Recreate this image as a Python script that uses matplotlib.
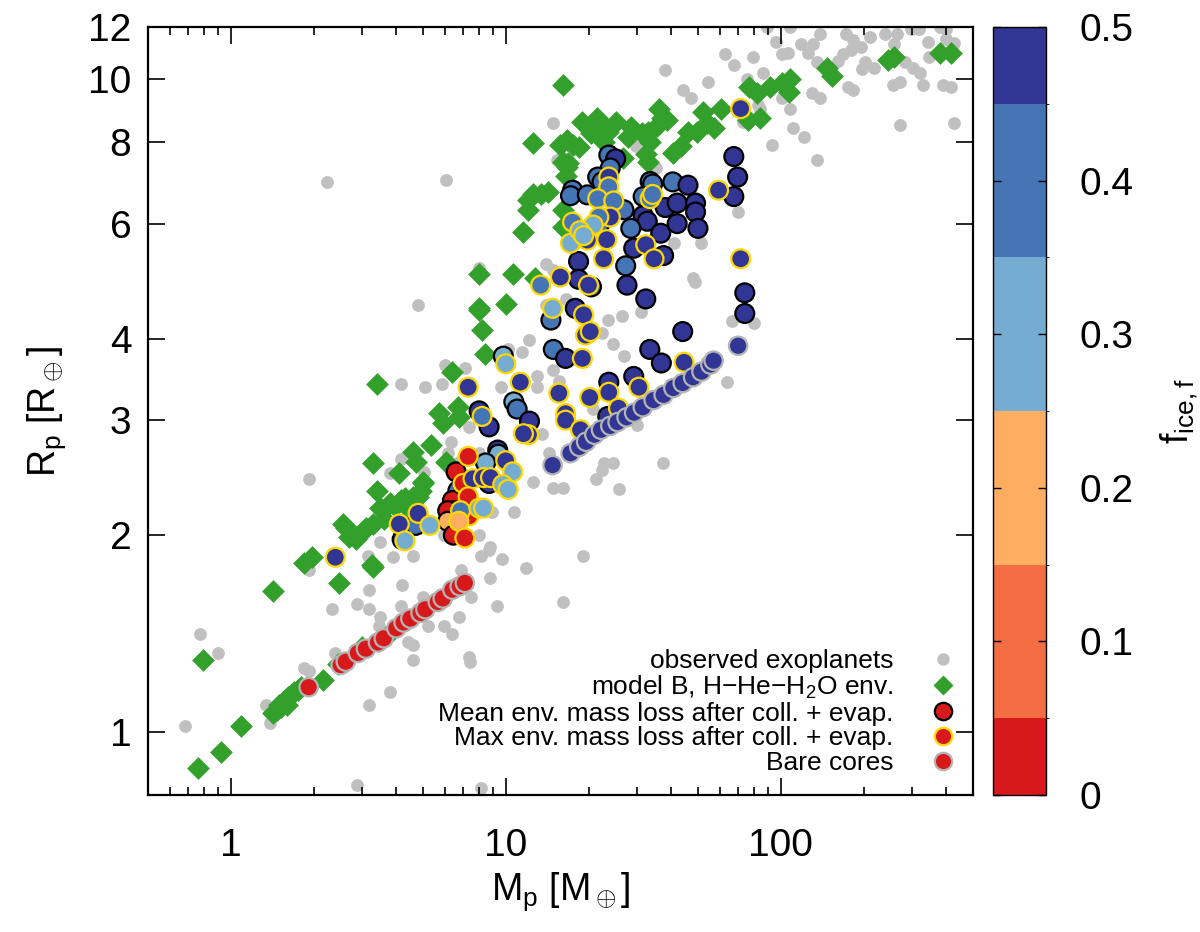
import numpy as np
import matplotlib
matplotlib.use("Agg")
import matplotlib.pyplot as plt
from matplotlib.colors import ListedColormap, BoundaryNorm
from matplotlib.lines import Line2D
from matplotlib.ticker import FixedLocator, LogLocator, NullFormatter, NullLocator

plt.rcParams["font.family"] = ["Liberation Sans", "DejaVu Sans"]
plt.rcParams["mathtext.fontset"] = "custom"
plt.rcParams["mathtext.rm"] = "Liberation Sans"
plt.rcParams["mathtext.it"] = "Liberation Sans"
plt.rcParams["mathtext.sf"] = "Liberation Sans"

# -------------------------
# observed exoplanets (M_p, R_p)
# -------------------------
obs_m = [1.92, 0.77, 0.90, 0.68, 1.34, 1.39, 1.92, 1.85, 2.40, 2.33, 2.87, 3.17, 3.17, 3.17,
         3.50, 3.45, 3.60, 3.80, 4.15, 4.20, 4.40, 4.60, 4.60, 5.00, 5.20, 5.95, 6.40, 6.75,
         7.35, 7.40, 7.45, 6.85, 8.70, 8.80, 9.30, 8.10, 2.87, 3.15, 3.90, 4.60, 3.50, 5.95, 1.92,
         4.8, 4.15, 5.1, 5.85, 6.0, 7.1, 12.1, 11.5, 13.0, 13.0, 14.8, 15.6, 9.6, 7.35, 6.3,
         13.6, 14.4, 6.15, 6.75, 5.05, 3.8, 4.15, 8.0, 10.7, 12.6, 14.8, 16.2, 8.95, 8.8, 8.1,
         9.7, 11.8, 8.0,
         48.8, 66.6, 80, 23.5, 26.5, 31, 22.4, 24.5, 27, 16.6, 64, 20.7, 30, 22.7, 24.5, 22.4,
         21.3, 25.8, 37.2, 19.1, 16.2,
         38, 54.6, 44, 47, 62.8, 67.5, 79.5, 75.5, 89, 96, 108, 101, 106, 118, 126, 131, 139,
         136, 161, 169, 180, 172, 183, 195, 212, 203, 218, 198, 240, 265, 297, 318, 380, 400,
         400, 258, 283, 303, 320, 342, 345, 425, 257, 272, 328, 390, 415, 175, 183, 272, 425,
         130, 139, 101, 108, 111, 121, 93, 136, 83, 86, 70, 51.3, 40.8, 29.7, 35.2, 48, 73, 84,
         2.23, 6.05, 14.8, 15.3, 8.0, 14.0, 14.8, 14.0, 10.2]
obs_r = [2.44, 1.41, 1.32, 1.02, 1.10, 1.03, 1.24, 1.25, 1.32, 1.54, 1.57, 1.65, 1.54, 1.10,
         1.50, 1.45, 1.41, 1.15, 1.56, 1.68, 1.37, 1.36, 1.29, 1.61, 1.45, 1.45, 1.41, 1.50,
         1.30, 1.28, 1.61, 1.77, 1.90, 1.72, 1.56, 0.82, 0.83, 1.86, 1.85, 1.86, 1.95, 2.00, 1.77,
         4.5, 3.41, 3.37, 3.41, 3.65, 3.60, 3.98, 3.81, 3.50, 3.37, 3.58, 3.45, 3.37, 2.93, 2.78,
         2.86, 2.67, 2.67, 2.59, 2.50, 2.49, 2.62, 2.67, 2.17, 2.41, 2.36, 2.36, 2.17, 1.92, 1.86,
         1.84, 1.78, 2.00,
         4.88, 4.25, 4.22, 4.27, 4.33, 4.40, 4.08, 3.92, 3.76, 4.6, 3.43, 3.12, 2.95, 2.58, 2.58,
         2.52, 2.44, 2.35, 2.58, 1.86, 1.58,
         10.3, 9.9, 9.6, 9.34, 10.9, 10.5, 10.8, 10.0, 12.0, 11.4, 12.0, 10.9, 10.95, 11.3, 10.96,
         11.3, 11.7, 10.6, 10.65, 10.9, 11.05, 11.7, 11.45, 11.2, 11.6, 10.6, 10.4, 10.35, 11.7,
         11.7, 11.9, 11.9, 12.0, 11.9, 11.5, 11.3, 10.6, 10.4, 10.2, 11.4, 10.8, 11.35, 9.78,
         9.9, 9.78, 9.78, 9.7, 9.7, 9.6, 8.5, 8.54, 9.5, 9.35, 9.35, 8.98, 8.4, 8.14, 7.92, 7.5,
         9.1, 10.2, 6.25, 5.6, 5.6, 7.9, 7.3, 4.95, 8.6, 9.0,
         6.94, 7.0, 8.54, 7.5, 5.13, 5.2, 5.1, 4.5, 3.85]

# -------------------------
# model B, H-He-H2O env.
# -------------------------
mb_m = [0.76, 0.92, 1.09, 0.79, 1.43, 1.47, 1.50, 1.55, 1.58, 1.62, 1.66, 1.70, 1.75, 1.80,
        1.52, 1.60, 2.16, 2.45, 3.0, 3.9,
        1.43, 1.84, 1.98, 2.47, 3.28, 2.55, 2.69, 2.85, 3.05, 3.3, 3.5, 3.8, 4.15, 4.4, 4.6,
        4.9, 5.0, 3.4, 4.1, 3.3, 4.6, 4.7, 5.35, 6.05, 5.0, 4.78, 4.3, 3.95, 2.62, 2.8, 3.1,
        3.6, 3.25,
        3.4, 8.0, 10.0, 8.2, 8.4, 6.4, 5.7, 5.9, 6.7, 6.75,
        16.2, 12.6, 15.7, 16.7, 17.5, 16.1, 16.9, 16.5, 12.6, 13.4, 14.2, 12.0, 12.0, 11.6,
        16.2, 16.1, 8.0, 10.6, 12.8, 8.0,
        18.4, 16.7, 20.9, 22.2, 20.4, 23.5, 25.1, 22.8, 27.8, 28.5, 26.6, 31.4, 32.8, 36, 37,
        38.6, 35.5, 33.5, 32.3, 33, 40.5, 43.3, 46, 49.8, 52.3, 54, 57, 60.5, 76.5, 82, 76, 84,
        91.6, 101, 108, 107, 147, 154, 245, 258, 380, 415, 19.0, 21.5]
mb_r = [0.88, 0.93, 1.02, 1.29, 1.07, 1.08, 1.10, 1.11, 1.12, 1.13, 1.14, 1.15, 1.16, 1.17,
        1.09, 1.10, 1.20, 1.27, 1.35, 1.43,
        1.64, 1.81, 1.85, 1.69, 1.79, 2.08, 1.99, 1.97, 2.04, 2.08, 2.20, 2.24, 2.26, 2.20, 2.29,
        2.34, 2.40, 2.34, 2.49, 2.58, 2.68, 2.59, 2.75, 2.59, 2.41, 2.29, 2.28, 2.22, 2.05, 2.00,
        2.05, 2.12, 1.80,
        3.41, 4.43, 4.52, 4.12, 3.79, 3.55, 3.08, 2.97, 3.14, 3.03,
        9.77, 7.97, 7.92, 8.05, 7.92, 7.46, 7.44, 7.10, 6.67, 6.67, 6.70, 6.52, 6.30, 5.82,
        6.30, 5.93, 5.03, 5.02, 4.95, 4.45,
        7.87, 7.33, 8.40, 8.54, 8.25, 8.30, 8.58, 8.00, 8.14, 8.43, 7.56, 8.25, 8.30, 9.0, 8.7,
        8.66, 8.45, 8.00, 7.66, 7.45, 7.70, 7.90, 8.30, 8.30, 8.90, 8.54, 8.40, 9.00, 9.70, 9.50,
        8.66, 8.70, 9.70, 9.85, 10.0, 9.55, 10.4, 10.1, 10.7, 10.8, 10.95, 10.95, 8.6, 8.7]

# -------------------------
# mean env. mass loss (black edge)
# -------------------------
mean_m = [23.7, 25.1, 24.0, 21.6, 17.5, 17.2, 19.8, 22.4, 26.9, 33.5, 34.2, 40.5, 46, 31.6,
          38, 42, 49, 49, 31.6, 32.7, 28.5, 36.6, 42, 50, 29.2, 37.5, 27.3, 18.4, 67.5, 69.7,
          67.5, 22.0,
          18.4, 20.5, 14.6, 17.9, 27.6, 32.3, 44, 74, 74,
          14.9, 16.5, 9.8, 10.7, 11.0, 12.2, 8.0, 8.7, 9.35, 9.4, 8.45, 6.6, 8.7, 6.7, 6.4,
          6.5, 6.15, 6.15, 6.45, 4.7, 4.2,
          33.4, 36.8, 23.7, 29.2, 23.5]
mean_r = [7.64, 7.54, 7.30, 7.07, 6.75, 6.62, 6.64, 6.95, 6.30, 6.96, 6.90, 6.95, 6.87, 6.60,
          6.35, 6.45, 6.45, 6.25, 6.17, 6.05, 5.90, 5.80, 6.00, 5.90, 5.50, 5.36, 5.17, 5.25,
          7.60, 7.07, 6.60, 6.00,
          4.93, 4.80, 4.27, 4.45, 4.83, 4.60, 4.10, 4.70, 4.37,
          3.85, 3.73, 3.76, 3.20, 3.12, 2.99, 3.10, 2.93, 2.70, 2.66, 2.58, 2.50, 2.40, 2.34,
          2.26, 2.18, 2.18, 2.10, 2.00, 2.07, 1.97,
          3.85, 3.67, 3.43, 3.50, 3.04]
mean_f = [0.4, 0.5, 0.4, 0.4, 0.4, 0.4, 0.4, 0.4, 0.4, 0.4, 0.4, 0.4, 0.5, 0.4,
          0.5, 0.5, 0.5, 0.5, 0.5, 0.5, 0.4, 0.5, 0.5, 0.5, 0.5, 0.5, 0.4, 0.5, 0.5, 0.5,
          0.5, 0.4,
          0.5, 0.4, 0.4, 0.5, 0.5, 0.5, 0.5, 0.5, 0.5,
          0.4, 0.5, 0.3, 0.3, 0.4, 0.5, 0.5, 0.5, 0.5, 0.3, 0.3, 0.0, 0.5, 0.4, 0.0,
          0.0, 0.0, 0.2, 0.0, 0.4, 0.5,
          0.5, 0.5, 0.5, 0.5, 0.5]

# -------------------------
# max env. mass loss (yellow edge)
# -------------------------
max_m = [23.7, 23.7, 21.6, 24.7, 24.0, 21.8, 17.5, 20.8, 17.2, 19.8, 23.3, 22.7, 32.3, 34.6,
         33.5, 34.2, 59.4, 71.5, 71.5, 18.6, 19.2,
         13.4, 15.8, 20.0, 14.8, 19.2, 19.5, 20.3, 10.0, 11.3, 7.3, 15.6, 16.5, 16.5, 8.2, 12.1,
         11.6, 10.0, 10.6, 7.3, 7.0, 7.6, 8.3, 8.8, 9.75, 10.2, 7.3, 7.35, 6.85, 8.0, 8.3, 6.75,
         7.1, 4.8, 5.3, 4.1, 4.3, 2.4,
         19.0, 44.5, 23.7, 30.5, 20.2, 18.7, 25.7]
max_r = [7.07, 6.83, 6.55, 6.50, 6.14, 6.14, 6.03, 5.97, 5.60, 5.66, 5.67, 5.30, 5.57, 5.30,
         6.55, 6.65, 6.75, 9.00, 5.30, 5.85, 5.75,
         4.83, 4.97, 4.83, 4.45, 4.35, 4.05, 4.10, 3.66, 3.43, 3.37, 3.30, 3.07, 3.00, 3.04, 2.85,
         2.86, 2.60, 2.50, 2.64, 2.40, 2.44, 2.45, 2.45, 2.39, 2.35, 2.29, 2.14, 2.18, 2.20, 2.20,
         2.10, 1.98, 2.16, 2.07, 2.08, 1.96, 1.85,
         3.73, 3.68, 3.31, 3.37, 3.25, 2.90, 3.13]
max_f = [0.5, 0.4, 0.4, 0.4, 0.5, 0.4, 0.4, 0.3, 0.3, 0.5, 0.5, 0.5, 0.5, 0.5,
         0.4, 0.4, 0.5, 0.5, 0.5, 0.3, 0.3,
         0.4, 0.5, 0.5, 0.3, 0.5, 0.5, 0.5, 0.3, 0.5, 0.5, 0.5, 0.5, 0.5, 0.4, 0.5,
         0.5, 0.5, 0.3, 0.0, 0.0, 0.5, 0.5, 0.5, 0.3, 0.3, 0.0, 0.0, 0.4, 0.3, 0.3, 0.2,
         0.0, 0.5, 0.3, 0.5, 0.3, 0.5,
         0.5, 0.5, 0.5, 0.5, 0.5, 0.5, 0.5]

# -------------------------
# bare cores (grey edge)
# -------------------------
bare_m = [1.92, 2.51, 2.62, 2.9, 3.1, 3.43, 3.6, 4.0, 4.25, 4.5, 4.9, 5.1, 5.66, 5.9, 6.4,
          6.8, 7.1,
          14.8, 17.2, 18.5, 19.6, 21, 22.2, 24, 25.5, 27.5, 29.3, 31.5, 34.5, 37.5, 40.7, 44,
          48, 51.5, 55.5, 57, 70]
bare_r = [1.17, 1.265, 1.28, 1.32, 1.34, 1.37, 1.39, 1.44, 1.47, 1.49, 1.52, 1.54, 1.58,
          1.60, 1.65, 1.67, 1.69,
          2.56, 2.67, 2.73, 2.78, 2.85, 2.90, 2.94, 2.98, 3.03, 3.08, 3.14, 3.22, 3.28, 3.36,
          3.42, 3.49, 3.56, 3.65, 3.70, 3.90]
bare_f = [0.0] * 17 + [0.5] * 20

x_ticks = [1, 10, 100]
y_ticks = [1, 2, 3, 4, 6, 8, 10, 12]
cb_ticks = [0, 0.1, 0.2, 0.3, 0.4, 0.5]

labels = ["observed exoplanets",
          "model B, H$-$He$-$H$_2$O env.",
          "Mean env. mass loss after coll. + evap.",
          "Max env. mass loss after coll. + evap.",
          "Bare cores"]

# palette: discrete, like gnuplot
cmap = ListedColormap(["#d7191c", "#f46d43", "#fdae61", "#74add1", "#4575b4", "#313695"])
norm = BoundaryNorm([0, 0.05, 0.15, 0.25, 0.35, 0.45, 0.5], cmap.N)

GRAY = "#c0c0c0"
GREEN = "#33a02c"
YELLOW = "#ffd700"
BAREEDGE = "#b4b4b4"

fig = plt.figure(figsize=(12, 9.32), dpi=100)
ax = fig.add_axes([0.1233, 0.147, 0.6875, 0.824])
cax = fig.add_axes([0.8275, 0.147, 0.044, 0.824])

ax.scatter(obs_m, obs_r, s=85, color=GRAY, linewidths=0, zorder=1)
ax.scatter(mb_m, mb_r, s=135, marker="D", color=GREEN, linewidths=0, zorder=2)
ax.scatter(mean_m, mean_r, c=mean_f, cmap=cmap, norm=norm, s=185, edgecolors="black",
           linewidths=1.6, zorder=3)
ax.scatter(max_m, max_r, c=max_f, cmap=cmap, norm=norm, s=185, edgecolors=YELLOW,
           linewidths=1.6, zorder=4)
sc = ax.scatter(bare_m, bare_r, c=bare_f, cmap=cmap, norm=norm, s=175, edgecolors=BAREEDGE,
                linewidths=1.6, zorder=5)

ax.set_xscale("log")
ax.set_yscale("log")
ax.set_xlim(0.5, 500)
ax.set_ylim(0.8, 12)

ax.xaxis.set_major_locator(FixedLocator(x_ticks))
ax.set_xticklabels([str(t) for t in x_ticks])
ax.xaxis.set_minor_locator(LogLocator(base=10, subs=np.arange(2, 10)))
ax.xaxis.set_minor_formatter(NullFormatter())
ax.yaxis.set_major_locator(FixedLocator(y_ticks))
ax.set_yticklabels([str(t) for t in y_ticks])
ax.yaxis.set_minor_locator(NullLocator())

ax.tick_params(which="both", direction="in", top=True, right=True, labelsize=28)
ax.tick_params(which="major", length=12, width=1.2)
ax.tick_params(axis="x", which="major", pad=24)
ax.tick_params(axis="y", which="major", pad=12)
ax.tick_params(which="minor", length=6, width=1.2)
for s in ax.spines.values():
    s.set_linewidth(1.6)

ax.set_xlabel(r"M$_\mathrm{p}$ [M$_\oplus$]", fontsize=27, labelpad=4)
ax.set_ylabel(r"R$_\mathrm{p}$ [R$_\oplus$]", fontsize=27, labelpad=14)

# legend proxies: red filled markers like gnuplot key
handles = [
    Line2D([], [], ls="none", marker="o", ms=9, mfc=GRAY, mec="none"),
    Line2D([], [], ls="none", marker="D", ms=10, mfc=GREEN, mec="none"),
    Line2D([], [], ls="none", marker="o", ms=12.5, mfc="#d7191c", mec="black", mew=1.6),
    Line2D([], [], ls="none", marker="o", ms=12.5, mfc="#d7191c", mec=YELLOW, mew=1.6),
    Line2D([], [], ls="none", marker="o", ms=12.5, mfc="#d7191c", mec=BAREEDGE, mew=1.6),
]
leg = ax.legend(handles, labels, loc="lower right", frameon=False, markerfirst=False,
                fontsize=19, handletextpad=1.3, labelspacing=0.03, handlelength=1.2,
                borderaxespad=0.0, bbox_to_anchor=(0.996, 0.012))

cb = fig.colorbar(sc, cax=cax, ticks=cb_ticks, spacing="proportional")
cb.ax.set_yticklabels(["0", "0.1", "0.2", "0.3", "0.4", "0.5"])
cb.ax.tick_params(direction="in", length=6, width=1, labelsize=28, pad=24, left=True)
cb.outline.set_linewidth(1)
cb.set_label(r"f$_\mathrm{ice,f}$", fontsize=27, labelpad=18)

plt.savefig("out.png", dpi=100)
